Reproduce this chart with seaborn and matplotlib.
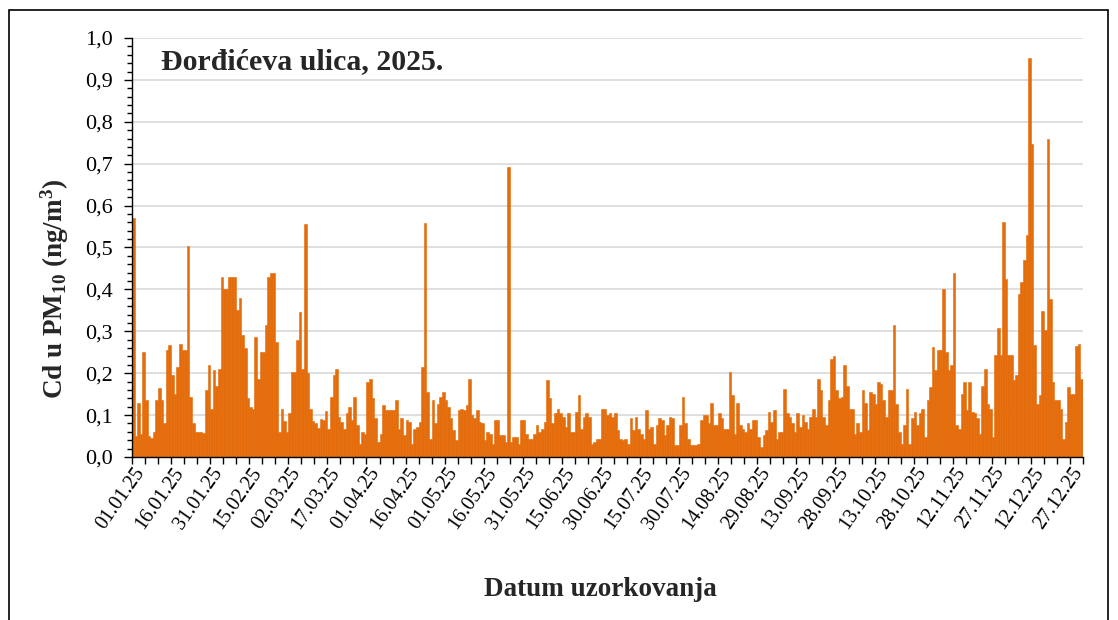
import matplotlib
matplotlib.use("Agg")
import matplotlib.pyplot as plt
import matplotlib.patches as patches
import matplotlib.transforms as mtransforms
from matplotlib.ticker import MultipleLocator, FixedLocator, FuncFormatter
import numpy as np
import pandas as pd
import seaborn as sns

# daily Cd in PM10 (ng/m3), 2025
jan = [0.57, 0.05, 0.13, 0.055, 0.25, 0.135, 0.05, 0.045, 0.06, 0.135, 0.165, 0.135, 0.08, 0.255, 0.267, 0.195,
       0.15, 0.215, 0.27, 0.255, 0.255, 0.504, 0.143, 0.08, 0.06, 0.06, 0.06, 0.057, 0.16, 0.22, 0.115]
feb = [0.207, 0.17, 0.21, 0.43, 0.40, 0.40, 0.43, 0.43, 0.43, 0.35, 0.38, 0.29, 0.26, 0.14, 0.12, 0.115,
       0.287, 0.187, 0.25, 0.25, 0.315, 0.43, 0.44, 0.44, 0.275, 0.06, 0.115, 0.085]
mar = [0.06, 0.105, 0.203, 0.203, 0.28, 0.347, 0.21, 0.557, 0.2, 0.115, 0.085, 0.08, 0.07, 0.09, 0.088, 0.11,
       0.068, 0.143, 0.195, 0.21, 0.096, 0.084, 0.068, 0.104, 0.12, 0.088, 0.143, 0.076, 0.032, 0.06, 0.056]
apr = [0.18, 0.187, 0.14, 0.092, 0.036, 0.056, 0.124, 0.112, 0.112, 0.112, 0.112, 0.135, 0.068, 0.092, 0.052,
       0.088, 0.084, 0.032, 0.068, 0.072, 0.084, 0.215, 0.558, 0.155, 0.044, 0.135, 0.08, 0.127, 0.143, 0.155]
may = [0.135, 0.12, 0.092, 0.064, 0.04, 0.112, 0.115, 0.112, 0.124, 0.187, 0.1, 0.092, 0.112, 0.084, 0.08, 0.04,
       0.06, 0.056, 0.032, 0.088, 0.088, 0.052, 0.052, 0.036, 0.693, 0.036, 0.048, 0.048, 0.032, 0.088, 0.088]
jun = [0.056, 0.044, 0.044, 0.056, 0.076, 0.06, 0.068, 0.084, 0.183, 0.14, 0.08, 0.104, 0.115, 0.104, 0.096,
       0.072, 0.104, 0.06, 0.06, 0.108, 0.147, 0.068, 0.096, 0.104, 0.096, 0.032, 0.036, 0.044, 0.044, 0.115]
jul = [0.115, 0.1, 0.104, 0.096, 0.104, 0.064, 0.044, 0.04, 0.044, 0.032, 0.092, 0.064, 0.096, 0.068, 0.056,
       0.044, 0.112, 0.068, 0.072, 0.032, 0.076, 0.092, 0.088, 0.052, 0.076, 0.096, 0.092, 0.028, 0.028, 0.076, 0.143]
aug = [0.08, 0.044, 0.028, 0.028, 0.028, 0.032, 0.088, 0.1, 0.1, 0.08, 0.13, 0.076, 0.076, 0.104, 0.092, 0.068,
       0.068, 0.203, 0.147, 0.056, 0.13, 0.076, 0.068, 0.06, 0.08, 0.068, 0.088, 0.088, 0.048, 0.024, 0.052]
sep = [0.064, 0.108, 0.084, 0.112, 0.044, 0.06, 0.06, 0.163, 0.104, 0.096, 0.08, 0.06, 0.104, 0.072, 0.1,
       0.084, 0.068, 0.096, 0.115, 0.096, 0.187, 0.16, 0.096, 0.076, 0.135, 0.235, 0.24, 0.16, 0.14, 0.143]
oct = [0.22, 0.17, 0.115, 0.115, 0.056, 0.08, 0.06, 0.16, 0.13, 0.064, 0.155, 0.15, 0.127, 0.18, 0.175, 0.135,
       0.096, 0.16, 0.16, 0.316, 0.127, 0.06, 0.032, 0.076, 0.163, 0.032, 0.092, 0.108, 0.076, 0.104, 0.115]
nov = [0.048, 0.135, 0.167, 0.263, 0.207, 0.255, 0.255, 0.40, 0.25, 0.207, 0.22, 0.44, 0.076, 0.068, 0.15,
       0.18, 0.112, 0.18, 0.108, 0.104, 0.092, 0.056, 0.17, 0.21, 0.127, 0.115, 0.048, 0.243, 0.307, 0.243]
dec = [0.56, 0.426, 0.243, 0.243, 0.183, 0.195, 0.39, 0.418, 0.47, 0.53, 0.952, 0.747, 0.267, 0.127, 0.149,
       0.348, 0.303, 0.758, 0.378, 0.18, 0.135, 0.135, 0.115, 0.044, 0.084, 0.167, 0.15, 0.15, 0.265, 0.27, 0.187]

months = [jan, feb, mar, apr, may, jun, jul, aug, sep, oct, nov, dec]
cd_values = np.concatenate([np.array(m) for m in months])
dates = pd.date_range("2025-01-01", periods=len(cd_values), freq="D")
label_step = 15
tick_step = 5

title_text = "Đorđićeva ulica, 2025."
x_title = "Datum uzorkovanja"
y_title = r"Cd u PM$_{\mathbf{10}}$ (ng/m$^{\mathbf{3}}$)"

bar_colour = "#E46C0A"
grid_colour = "#D9D9D9"

sns.set_theme(style="white")
plt.rcParams["font.family"] = ["Liberation Serif", "DejaVu Serif"]
plt.rcParams["mathtext.fontset"] = "custom"
plt.rcParams["mathtext.rm"] = "Liberation Serif"
plt.rcParams["mathtext.it"] = "Liberation Serif:italic"
plt.rcParams["mathtext.bf"] = "Liberation Serif:bold"

W, H = 1118, 620
fig = plt.figure(figsize=(W / 100, H / 100), dpi=100)
fig.patch.set_facecolor("white")
ax = fig.add_axes([132 / W, 1 - 457 / H, (1083 - 132) / W, (457 - 38) / H])

df = pd.DataFrame({"dan": np.arange(len(cd_values)), "cd": cd_values})
sns.barplot(data=df, x="dan", y="cd", color=bar_colour, saturation=1, width=1.0,
            linewidth=0.4, edgecolor=bar_colour, errorbar=None, ax=ax, zorder=2)

# axes
ax.set_xlim(-0.5, len(cd_values) - 0.5)
ax.set_ylim(0, 1)
ax.set_xlabel("")
ax.set_ylabel("")
ax.set_axisbelow(True)
ax.yaxis.grid(True, color=grid_colour, lw=1.2)
ax.xaxis.grid(False)
for s in ["top", "right"]:
    ax.spines[s].set_visible(False)
for s in ["left", "bottom"]:
    ax.spines[s].set_color("black")
    ax.spines[s].set_linewidth(1)

pos = np.arange(0, len(cd_values), label_step)
ax.set_xticks(pos, labels=[dates[i].strftime("%d.%m.%y") for i in pos])
ax.xaxis.set_minor_locator(FixedLocator(np.arange(-0.5, len(cd_values), tick_step)))
shift = mtransforms.ScaledTranslation(-4 / 100, 0, fig.dpi_scale_trans)
for lab in ax.get_xticklabels():
    lab.set_rotation(55)
    lab.set_ha("right")
    lab.set_rotation_mode("anchor")
    lab.set_transform(lab.get_transform() + shift)
ax.tick_params(axis="x", which="major", length=0, pad=5, labelsize=14.5, labelcolor="black")
ax.tick_params(axis="x", which="minor", length=5, width=1, color="black", direction="out", bottom=True)

ax.yaxis.set_major_locator(MultipleLocator(0.1))
ax.yaxis.set_minor_locator(MultipleLocator(0.02))
ax.yaxis.set_major_formatter(FuncFormatter(lambda v, _: f"{v:.1f}".replace(".", ",")))
ax.tick_params(axis="y", which="major", length=6, width=1, color="black", direction="out",
               left=True, pad=7.5, labelsize=16, labelcolor="black")
ax.tick_params(axis="y", which="minor", length=3.5, width=1, color="black", direction="out", left=True)

# texts
fig.text(161 / W, 1 - 69 / H, title_text, fontsize=21.5, fontweight="bold", va="baseline", ha="left")
fig.text(55 / W, 1 - 289 / H, y_title, fontsize=19.5, fontweight="bold", rotation=90,
         ha="center", va="center")
fig.text(600 / W, 1 - 590 / H, x_title, fontsize=19.5, fontweight="bold", ha="center", va="center")

# chart border
fig.add_artist(patches.Rectangle((9 / W, -0.1), 1099 / W, 1.1 - 10 / H, transform=fig.transFigure,
                                 fill=False, edgecolor="black", lw=1.2))

fig.savefig("out.png", dpi=100)
